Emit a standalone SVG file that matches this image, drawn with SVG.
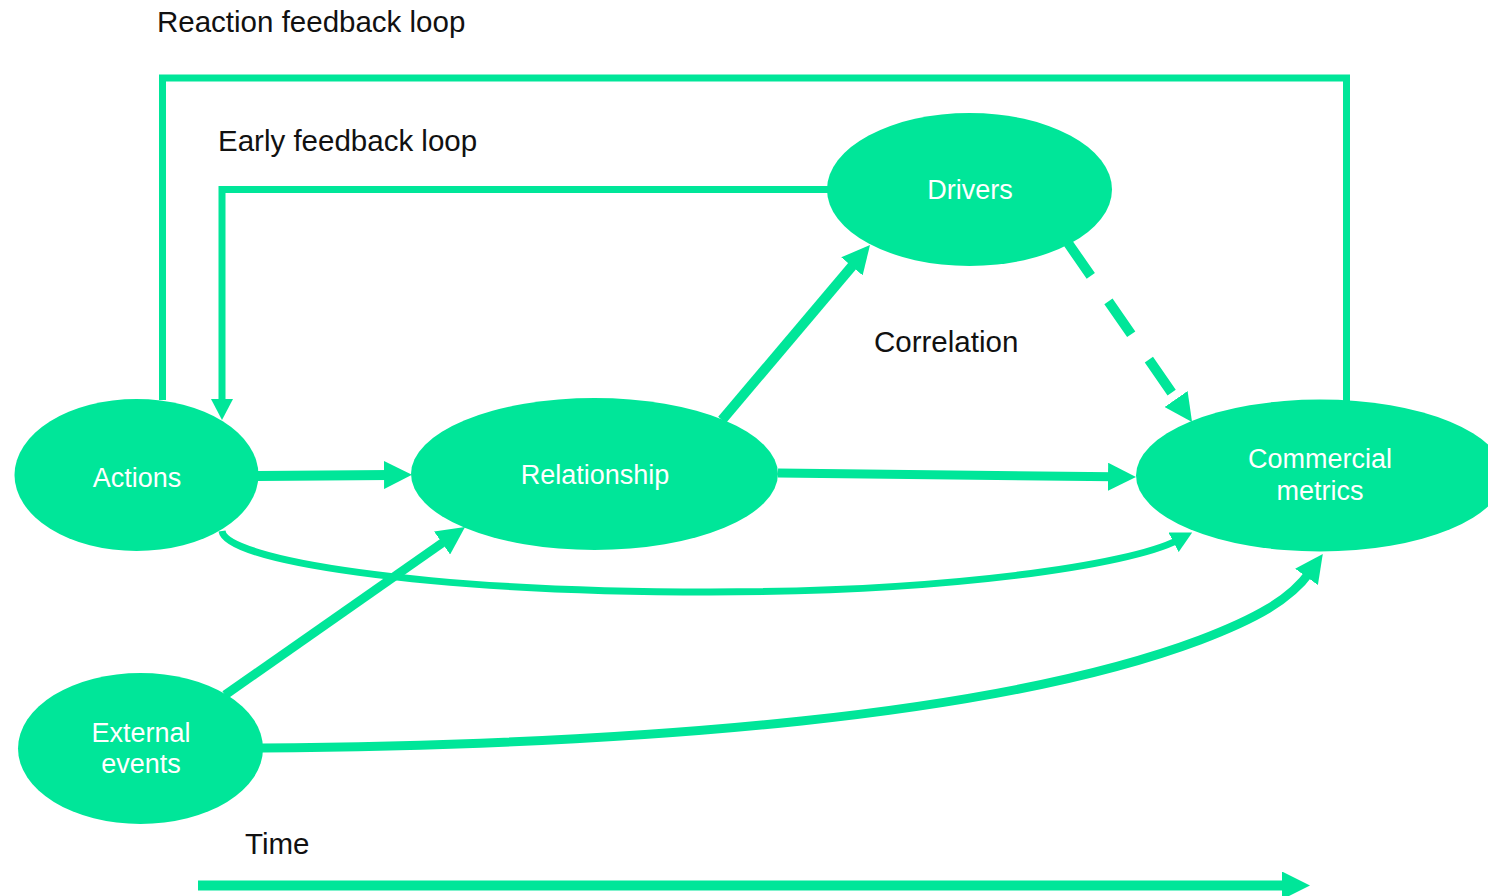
<svg xmlns="http://www.w3.org/2000/svg" width="1488" height="896" viewBox="0 0 1488 896">
  <style>
    .node { fill: #00E699; }
    .ntext { fill: #ffffff; font-family: "Liberation Sans", Arial, sans-serif; font-size: 27px; text-anchor: middle; }
    .label { fill: #111111; font-family: "Liberation Sans", Arial, sans-serif; font-size: 29.5px; }
    .conn { fill: none; stroke: #00E699; stroke-linejoin: miter; }
  </style>
  <defs>
    <marker id="arrowL" markerUnits="userSpaceOnUse" markerWidth="28" markerHeight="28" refX="6" refY="14" orient="auto" viewBox="0 0 28 28">
      <path d="M0,0 L28,14 L0,28 z" fill="#00E699"/>
    </marker>
    <marker id="arrowS" markerUnits="userSpaceOnUse" markerWidth="21" markerHeight="22" refX="5" refY="11" orient="auto" viewBox="0 0 21 22">
      <path d="M0,0 L21,11 L0,22 z" fill="#00E699"/>
    </marker>
  </defs>
  <rect width="1488" height="896" fill="#ffffff"/>

  <g id="labels">
    <text class="label" x="157" y="32">Reaction feedback loop</text>
    <text class="label" x="218" y="151">Early feedback loop</text>
    <text class="label" x="874" y="352">Correlation</text>
    <text class="label" x="245" y="854">Time</text>
  </g>

  <g id="connectors">
    <path class="conn" stroke-width="7" d="M162.5 400 L162.5 78 L1346.5 78 L1346.5 401"/>
    <path class="conn" stroke-width="7" d="M828 189.5 L222 189.5 L222 404" marker-end="url(#arrowS)"/>
    <path class="conn" stroke-width="10" d="M258 476 L390 475" marker-end="url(#arrowL)"/>
    <path class="conn" stroke-width="9" d="M778 473 L1114 476.8" marker-end="url(#arrowL)"/>
    <path class="conn" stroke-width="10" d="M722 420 L855.8 261.8" marker-end="url(#arrowL)"/>
    <path class="conn" stroke-width="10" stroke-dasharray="40 31" d="M1068 243 L1179.5 403.9" marker-end="url(#arrowL)"/>
    <path class="conn" stroke-width="7" d="M222 531 C226 560 420 592 710 592 C950 592 1130 565 1178 540" marker-end="url(#arrowS)"/>
    <path class="conn" stroke-width="9" d="M225 695 L447 539.6" marker-end="url(#arrowL)"/>
    <path class="conn" stroke-width="9" d="M262 748 C650 745 1000 715 1200 640 C1255 619 1290 600 1310 572" marker-end="url(#arrowL)"/>
    <path class="conn" stroke-width="10" d="M198 885.5 L1288 885.5" marker-end="url(#arrowL)"/>
  </g>

  <g id="node-actions">
    <ellipse class="node" cx="136.5" cy="475" rx="122" ry="76"/>
    <text class="ntext" x="137" y="487">Actions</text>
  </g>
  <g id="node-relationship">
    <ellipse class="node" cx="594.5" cy="474" rx="183.5" ry="76"/>
    <text class="ntext" x="595" y="484">Relationship</text>
  </g>
  <g id="node-drivers">
    <ellipse class="node" cx="969.5" cy="189.5" rx="142.5" ry="76.5"/>
    <text class="ntext" x="970" y="199">Drivers</text>
  </g>
  <g id="node-commercial">
    <ellipse class="node" cx="1320" cy="475.5" rx="184" ry="76"/>
    <text class="ntext" x="1320" y="468">Commercial</text>
    <text class="ntext" x="1320" y="500">metrics</text>
  </g>
  <g id="node-external">
    <ellipse class="node" cx="140.5" cy="748.5" rx="122.5" ry="75.5"/>
    <text class="ntext" x="141" y="742">External</text>
    <text class="ntext" x="141" y="773">events</text>
  </g>
</svg>
